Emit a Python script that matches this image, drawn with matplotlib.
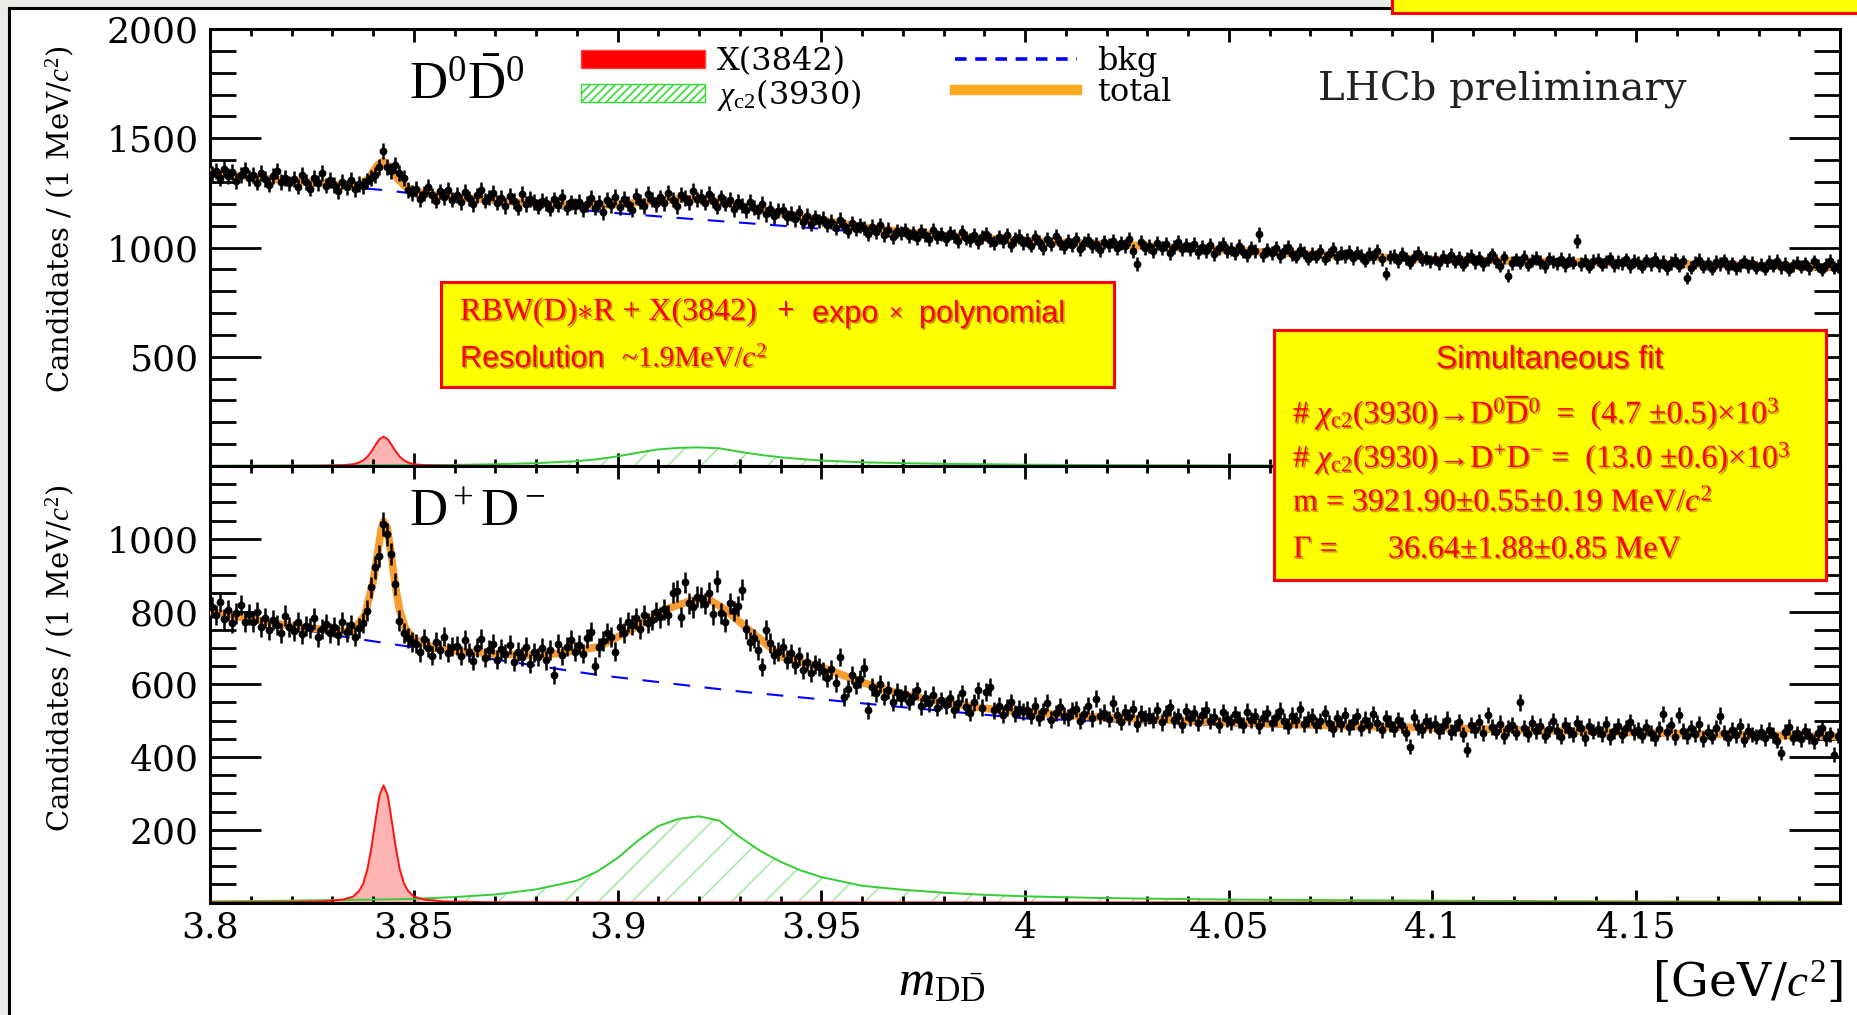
import numpy as np
import matplotlib
matplotlib.use('Agg')
import matplotlib.pyplot as plt
import matplotlib.patheffects as pe
from matplotlib.patches import Rectangle, Patch
from matplotlib.lines import Line2D
from matplotlib.ticker import FixedLocator, MultipleLocator, FormatStrFormatter

plt.rcParams['font.family'] = ['DejaVu Serif']
plt.rcParams['mathtext.fontset'] = 'custom'
plt.rcParams['mathtext.rm'] = 'Liberation Serif'
plt.rcParams['mathtext.it'] = 'Liberation Serif:italic'
plt.rcParams['mathtext.bf'] = 'Liberation Serif:bold'
plt.rcParams['hatch.linewidth'] = 1.2

# ---------------- data (1 MeV bins, 3.8 - 4.2 GeV) ----------------
bin_lo = 3.8
bin_width = 0.001
n_bins = 400

# D0 D0bar candidates per bin
counts_d0 = [
    1338, 1352, 1320, 1361, 1329, 1347, 1305, 1334, 1356, 1318,
    1330, 1297, 1341, 1312, 1288, 1326, 1349, 1301, 1317, 1293,
    1312, 1279, 1334, 1301, 1270, 1318, 1296, 1341, 1283, 1309,
    1286, 1258, 1302, 1275, 1311, 1268, 1290, 1282, 1305, 1318,
    1332, 1368, 1441, 1370, 1352, 1377, 1341, 1318, 1262, 1250,
    1268, 1222, 1246, 1279, 1238, 1215, 1257, 1231, 1264, 1219,
    1241, 1208, 1256, 1225, 1197, 1239, 1262, 1214, 1230, 1249,
    1205, 1228, 1190, 1236, 1213, 1181, 1244, 1199, 1222, 1208,
    1186, 1214, 1203, 1178, 1221, 1195, 1232, 1181, 1207, 1190,
    1210, 1176, 1199, 1228, 1183, 1205, 1162, 1218, 1193, 1231,
    1184, 1223, 1201, 1172, 1236, 1209, 1190, 1245, 1218, 1197,
    1229, 1203, 1251, 1218, 1190, 1242, 1226, 1207, 1258, 1221,
    1232, 1205, 1247, 1214, 1186, 1229, 1200, 1218, 1175, 1209,
    1192, 1170, 1208, 1181, 1165, 1199, 1152, 1177, 1143, 1168,
    1171, 1138, 1155, 1129, 1162, 1117, 1146, 1108, 1139, 1121,
    1132, 1104, 1118, 1090, 1127, 1099, 1076, 1112, 1085, 1101,
    1088, 1063, 1096, 1071, 1104, 1059, 1082, 1048, 1077, 1066,
    1079, 1051, 1068, 1042, 1074, 1058, 1039, 1081, 1047, 1063,
    1040, 1066, 1052, 1029, 1071, 1045, 1033, 1058, 1024, 1049,
    1061, 1036, 1019, 1047, 1030, 1055, 1012, 1038, 1050, 1021,
    1034, 1009, 1046, 1025, 998, 1037, 1015, 1052, 1020, 1003,
    1029, 1011, 1040, 994, 1022, 1035, 1006, 1018, 988, 1027,
    1013, 1031, 997, 1020, 1005, 1039, 985, 925, 1024, 999,
    1008, 983, 1021, 996, 1014, 976, 1003, 1027, 991, 1010,
    994, 1016, 978, 1002, 985, 1011, 969, 997, 1018, 983,
    992, 973, 1006, 981, 964, 998, 985, 1060, 967, 989,
    975, 996, 961, 983, 1004, 970, 958, 987, 977, 949,
    972, 958, 985, 949, 968, 993, 955, 974, 962, 981,
    951, 977, 963, 940, 970, 956, 983, 946, 880, 957,
    962, 938, 971, 950, 931, 958, 974, 944, 953, 936,
    949, 927, 958, 941, 966, 935, 952, 921, 947, 960,
    933, 951, 925, 944, 968, 939, 917, 955, 870, 929,
    946, 930, 958, 921, 940, 952, 934, 914, 949, 937,
    927, 948, 919, 942, 931, 1030, 924, 940, 912, 938,
    945, 921, 936, 950, 918, 933, 927, 946, 915, 939,
    930, 912, 941, 925, 948, 918, 934, 906, 929, 943,
    916, 937, 860, 908, 931, 945, 913, 927, 902, 933,
    924, 941, 911, 928, 905, 919, 936, 915, 930, 907,
    921, 902, 933, 916, 940, 909, 925, 898, 918, 931,
    912, 928, 905, 936, 917, 899, 922, 940, 908, 915,
]

# D+ D- candidates per bin
counts_dp = [
    812, 790, 826, 779, 803, 768, 795, 818, 771, 792,
    771, 798, 757, 783, 749, 776, 764, 741, 789, 758,
    746, 772, 738, 761, 755, 781, 729, 752, 766, 741,
    758, 736, 770, 744, 762, 731, 755, 768, 802, 866,
    921, 952, 1040, 1012, 958, 876, 775, 742, 728, 716,
    712, 688, 724, 701, 679, 717, 695, 731, 686, 703,
    706, 679, 722, 688, 664, 701, 725, 673, 694, 711,
    668, 697, 684, 709, 662, 690, 676, 703, 657, 688,
    675, 701, 666, 694, 625, 712, 680, 703, 721, 690,
    709, 684, 726, 745, 650, 702, 719, 741, 730, 690,
    758, 740, 772, 763, 781, 752, 790, 768, 776, 799,
    784, 806, 791, 852, 856, 785, 880, 823, 812, 840,
    838, 821, 852, 792, 884, 795, 772, 822, 801, 815,
    860, 751, 717, 726, 694, 648, 749, 713, 681, 690,
    702, 668, 685, 654, 677, 640, 662, 631, 655, 648,
    636, 618, 641, 604, 675, 565, 588, 626, 597, 615,
    646, 528, 592, 575, 601, 566, 584, 551, 579, 562,
    574, 552, 566, 583, 540, 561, 548, 571, 535, 556,
    542, 561, 530, 549, 575, 538, 522, 551, 583, 536,
    579, 593, 528, 541, 515, 537, 550, 519, 533, 526,
    530, 512, 541, 507, 526, 549, 503, 521, 538, 514,
    509, 527, 532, 498, 518, 541, 506, 560, 513, 522,
    505, 548, 516, 497, 524, 510, 533, 492, 519, 507,
    514, 501, 528, 495, 520, 537, 503, 512, 489, 526,
    508, 521, 494, 515, 530, 499, 511, 487, 523, 505,
    496, 518, 503, 489, 525, 501, 512, 484, 507, 520,
    493, 509, 527, 498, 486, 514, 502, 531, 490, 505,
    511, 487, 499, 520, 494, 478, 506, 491, 515, 483,
    497, 512, 480, 503, 489, 518, 494, 475, 506, 492,
    478, 501, 488, 465, 428, 509, 482, 474, 498, 487,
    492, 471, 486, 503, 468, 481, 495, 462, 420, 489,
    474, 497, 466, 515, 483, 470, 492, 458, 479, 488,
    467, 550, 481, 463, 494, 472, 486, 459, 477, 499,
    471, 456, 488, 475, 462, 493, 480, 451, 484, 470,
    478, 463, 490, 455, 472, 486, 461, 479, 495, 468,
    474, 459, 483, 466, 451, 477, 518, 469, 488, 455,
    516, 472, 458, 481, 463, 490, 449, 470, 456, 479,
    514, 467, 452, 475, 460, 486, 448, 471, 462, 456,
    468, 451, 474, 460, 445, 411, 470, 482, 453, 465,
    449, 472, 458, 443, 467, 480, 451, 462, 406, 459,
]

# fit curves
total_d0_x = [3.800, 3.810, 3.820, 3.830, 3.836, 3.839, 3.841, 3.8425, 3.844, 3.846,
              3.848, 3.850, 3.855, 3.860, 3.870, 3.880, 3.890, 3.900, 3.910, 3.915,
              3.920, 3.925, 3.930, 3.940, 3.950, 3.960, 3.970, 3.980, 4.000, 4.020,
              4.050, 4.080, 4.100, 4.130, 4.150, 4.180, 4.200]
total_d0 = [1345, 1322, 1305, 1290, 1278, 1318, 1375, 1395, 1370, 1315,
            1278, 1258, 1240, 1230, 1217, 1200, 1192, 1197, 1215, 1222,
            1220, 1210, 1192, 1158, 1125, 1095, 1072, 1055, 1030, 1016,
            987, 960, 945, 935, 928, 918, 910]
bkg_d0_x = [3.80, 3.82, 3.843, 3.86, 3.88, 3.90, 3.92, 3.94, 3.966, 3.98,
            4.00, 4.05, 4.10, 4.15, 4.20]
bkg_d0 = [1340, 1300, 1262, 1225, 1190, 1157, 1128, 1100, 1062, 1046,
          1024, 983, 942, 926, 909]

total_dp_x = [3.800, 3.810, 3.820, 3.830, 3.835, 3.838, 3.840, 3.841, 3.842, 3.8426,
              3.8435, 3.8445, 3.8455, 3.8465, 3.848, 3.850, 3.855, 3.860, 3.870, 3.880,
              3.885, 3.8955, 3.9037, 3.9118, 3.9184, 3.9225, 3.9266, 3.9323, 3.9404, 3.9497,
              3.9609, 3.969, 3.980, 3.990, 4.000, 4.020, 4.050, 4.080, 4.100, 4.130,
              4.150, 4.180, 4.200]
total_dp = [800, 780, 760, 748, 745, 790, 880, 950, 1025, 1048,
            1030, 955, 870, 805, 752, 725, 700, 692, 683, 680,
            684, 703, 752, 806, 831, 833, 804, 749, 675, 648,
            602, 575, 550, 534, 523, 508, 495, 485, 480, 472,
            467, 460, 456]
bkg_dp_x = [3.80, 3.836, 3.8955, 3.93, 3.969, 4.00, 4.05, 4.10, 4.15, 4.20]
bkg_dp = [792, 725, 625, 580, 538, 506, 487, 474, 463, 453]

# X(3842) component
x3842_x = [3.800, 3.8176, 3.8276, 3.8326, 3.8351, 3.8366, 3.8376, 3.8386, 3.8396, 3.8406,
           3.8416, 3.8426, 3.8436, 3.8446, 3.8456, 3.8466, 3.8476, 3.8486, 3.8501, 3.8526,
           3.8576, 3.8676, 3.900, 4.200]
x3842_d0 = [0.1, 0.5, 1.5, 4, 8, 16, 26, 42, 66, 96,
            123, 134, 123, 96, 66, 42, 26, 16, 8, 4,
            1.5, 0.5, 0.1, 0]
x3842_dp = [0.3, 1, 3, 8, 16, 32, 52, 90, 150, 225,
            295, 322, 295, 225, 150, 90, 52, 32, 16, 8,
            3, 1, 0.3, 0]

# chi_c2(3930) component
chic2_x = [3.80, 3.82, 3.84, 3.85, 3.86, 3.87, 3.88, 3.89, 3.895, 3.90,
           3.905, 3.91, 3.915, 3.92, 3.925, 3.93, 3.935, 3.94, 3.945, 3.95,
           3.96, 3.97, 3.98, 3.99, 4.00, 4.02, 4.05, 4.10, 4.15, 4.20]
chic2_d0 = [1, 2, 3, 4, 5, 8, 13, 22, 31, 44,
            61, 76, 83, 85, 81, 65, 51, 40, 32, 25,
            17, 13, 10, 8, 6, 4, 2.5, 1.5, 1, 0.7]
chic2_dp = [3, 5, 8, 10, 15, 22, 36, 60, 85, 122,
            170, 210, 230, 237, 225, 180, 142, 112, 88, 70,
            46, 35, 27, 21, 17, 12, 8, 5, 3, 2]

x_tick_vals = [3.8, 3.85, 3.9, 3.95, 4.0, 4.05, 4.1, 4.15]
y_ticks_d0 = [500, 1000, 1500, 2000]
y_ticks_dp = [200, 400, 600, 800, 1000]

# ---------------- figure ----------------
W, H = 1858, 1015


def fx(px):
    return px / W


def fy(py):
    return 1 - py / H


fig = plt.figure(figsize=(W / 100, H / 100), dpi=100)
fig.patch.set_facecolor('white')

# slide background strips + frame
fig.add_artist(Rectangle((0, fy(8)), 1, 8 / H, transform=fig.transFigure,
                         facecolor='#e9ece6', edgecolor='none', zorder=-5))
fig.add_artist(Rectangle((0, 0), fx(9), 1, transform=fig.transFigure,
                         facecolor='#e9ece6', edgecolor='none', zorder=-5))
fig.add_artist(Line2D([fx(9), fx(1392)], [fy(8), fy(8)], transform=fig.transFigure,
                      color='black', lw=2.2))
fig.add_artist(Line2D([fx(9), fx(9)], [fy(8), 0], transform=fig.transFigure,
                      color='black', lw=2.2))

ax_top = fig.add_axes([fx(210), fy(466), (1840 - 210) / W, (466 - 29) / H])
ax_bot = fig.add_axes([fx(210), fy(902.5), (1840 - 210) / W, (902.5 - 466) / H])

mass = bin_lo + bin_width * (np.arange(n_bins) + 0.5)

ORANGE = '#f89c30'
GREEN = '#35cc35'


def draw_panel(ax, counts, tot_x, tot, bkg_x, bkg, xc, xcomp, cx, ccomp):
    ax.fill_between(cx, 0, ccomp, facecolor='none', edgecolor='#a8e8a8',
                    hatch='/', linewidth=0, zorder=1)
    ax.plot(cx, ccomp, color=GREEN, lw=1.4, zorder=2)
    ax.fill_between(xc, 0, xcomp, facecolor='#ffb4b4', edgecolor='none', zorder=1)
    ax.plot(xc, xcomp, color='#ff1010', lw=1.4, zorder=2)
    ax.plot(bkg_x, bkg, color='#0000ff', lw=1.5, dashes=(8, 7), zorder=3)
    ax.plot(tot_x, tot, color=ORANGE, lw=5.5, solid_joinstyle='round', zorder=4)
    c = np.array(counts, dtype=float)
    ax.errorbar(mass, c, yerr=np.sqrt(c), fmt='o', ms=4.6, color='black',
                ecolor='black', elinewidth=1.8, capsize=0, zorder=5)


def style_axes(ax, yticks, yminor, ylim):
    ax.set_xlim(3.8, 4.2)
    ax.set_ylim(*ylim)
    ax.xaxis.set_major_locator(FixedLocator(x_tick_vals))
    ax.xaxis.set_minor_locator(MultipleLocator(0.01))
    ax.xaxis.set_major_formatter(FormatStrFormatter('%g'))
    ax.yaxis.set_major_locator(FixedLocator(yticks))
    ax.yaxis.set_minor_locator(MultipleLocator(yminor))
    ax.tick_params(axis='x', which='major', direction='in', length=9.5, width=2,
                   top=True, bottom=True, labelsize=26, pad=6)
    ax.tick_params(axis='x', which='minor', direction='in', length=5, width=2,
                   top=True, bottom=True)
    ax.tick_params(axis='y', which='major', direction='in', length=37, width=2,
                   left=True, right=True, labelsize=26, pad=8)
    ax.tick_params(axis='y', which='minor', direction='in', length=19, width=2,
                   left=True, right=True)
    for sp in ax.spines.values():
        sp.set_linewidth(2.2)


draw_panel(ax_top, counts_d0, total_d0_x, total_d0, bkg_d0_x, bkg_d0,
           x3842_x, x3842_d0, chic2_x, chic2_d0)
draw_panel(ax_bot, counts_dp, total_dp_x, total_dp, bkg_dp_x, bkg_dp,
           x3842_x, x3842_dp, chic2_x, chic2_dp)

style_axes(ax_top, y_ticks_d0, 100, (0, 2000))
style_axes(ax_bot, y_ticks_dp, 50, (0, 1200))
ax_top.tick_params(labelbottom=False)

ylab = 'Candidates / (1 MeV/$c^2$)'
ax_top.set_ylabel(ylab, fontsize=21, loc='top')
ax_top.yaxis.set_label_coords(-0.0816, 0.962)
ax_bot.set_ylabel(ylab, fontsize=21, loc='top')
ax_bot.yaxis.set_label_coords(-0.0816, 0.958)

ax_bot.set_xlabel(r'$m_{\mathrm{D\bar{D}}}$', fontsize=36)
ax_bot.xaxis.set_label_coords(0.449, -0.125)
ax_bot.text(1.002, -0.187, r'[GeV/$c^2$]', transform=ax_bot.transAxes,
            ha='right', va='center', fontsize=34)

ax_top.text(0.122, 0.84, r'$\mathrm{D}^{0}\bar{\mathrm{D}}^{0}$', transform=ax_top.transAxes,
            fontsize=38, ha='left', va='baseline')
ax_bot.text(0.122, 0.8625, r'$\mathrm{D}^+\mathrm{D}^-$', transform=ax_bot.transAxes,
            fontsize=38, ha='left', va='baseline')
ax_top.text(0.680, 0.8375, 'LHCb preliminary', transform=ax_top.transAxes,
            fontsize=29, ha='left', va='baseline', color='#222222')

# legend
leg_fs = 23
fs_px = leg_fs * 100 / 72
h_x = Patch(facecolor='#ff0000', edgecolor='#ff4040', label='X(3842)')
h_c = Patch(facecolor='white', edgecolor='#33dd33', hatch='////', label=r'$\chi_{\rm c2}$(3930)')
h_b = Line2D([], [], color='#0000ff', lw=2.6, dashes=(3.2, 2.4), label='bkg')
h_t = Line2D([], [], color='#fbab1f', lw=7.5, label='total')
leg1 = ax_top.legend(handles=[h_x, h_c], loc='upper left', bbox_to_anchor=(fx(581), fy(46)),
                     bbox_transform=fig.transFigure, frameon=False, fontsize=leg_fs,
                     borderpad=0, borderaxespad=0, handlelength=124 / fs_px,
                     handleheight=16 / fs_px, handletextpad=12 / fs_px, labelspacing=0.0)
ax_top.add_artist(leg1)
ax_top.legend(handles=[h_b, h_t], loc='upper left', bbox_to_anchor=(fx(955), fy(46)),
              bbox_transform=fig.transFigure, frameon=False, fontsize=leg_fs,
              borderpad=0, borderaxespad=0, handlelength=122 / fs_px,
              handletextpad=20 / fs_px, labelspacing=0.0)

# ---------------- yellow annotation boxes ----------------
RED = '#ff0000'
shadow = [pe.SimplePatchShadow(offset=(1.2, -1.2), shadow_rgbFace='#7a2a00', alpha=0.45),
          pe.Normal()]


def ybox(x0, y0, x1, y1):
    fig.add_artist(Rectangle((fx(x0), fy(y1)), (x1 - x0) / W, (y1 - y0) / H,
                             transform=fig.transFigure, facecolor='#ffff00',
                             edgecolor=RED, lw=2.2, zorder=5))


def btext(x, y, s, size=23, family='Liberation Serif', ha='left'):
    fig.text(fx(x), fy(y), s, fontsize=size, family=[family, 'DejaVu Sans'],
             color=RED, ha=ha, va='center', zorder=6, path_effects=shadow)


ybox(1392, -20, 1875, 13)

ybox(441, 282, 1114, 387)
btext(460, 312, 'RBW(D)$\\ast$R + X(3842)')
btext(786, 312, '+', ha='center')
btext(812, 314, 'expo', size=22, family='Liberation Sans')
btext(896, 314, '\u00d7', size=17, family='Liberation Sans', ha='center')
btext(919, 314, 'polynomial', size=22, family='Liberation Sans')
btext(460, 359, 'Resolution', size=22, family='Liberation Sans')
btext(622, 358, r'~1.9MeV/$c^2$', size=21)

ybox(1274, 330, 1826, 580)
btext(1550, 360, 'Simultaneous fit', size=23, family='Liberation Sans', ha='center')
btext(1293, 412, '# $\\chi_{\\rm c2}$(3930)\u2192D$^{0}\\overline{\\rm D}^{0}$  =  (4.7 \u00b10.5)\u00d710$^{3}$')
btext(1293, 458, '# $\\chi_{\\rm c2}$(3930)\u2192D$^{+}$D$^{-}$ =  (13.0 \u00b10.6)\u00d710$^{3}$')
btext(1293, 503, 'm = 3921.90\u00b10.55\u00b10.19 MeV/$c^2$')
btext(1293, 550, '\u0393 =')
btext(1388, 550, '36.64\u00b11.88\u00b10.85 MeV')

fig.savefig('out.png', dpi=100)
